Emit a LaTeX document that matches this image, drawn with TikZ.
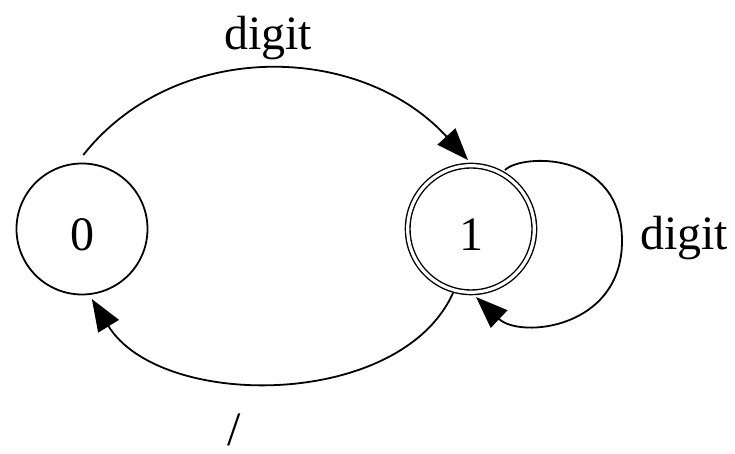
\documentclass[tikz,border=0pt]{standalone}
\usepackage{fontspec}
\setmainfont{Liberation Serif}
\usetikzlibrary{arrows.meta,calc}
\begin{document}
\begin{tikzpicture}[x=1pt,y=1pt,
  lbl/.style={font=\fontsize{48}{48}\selectfont, inner sep=0pt, anchor=base},
  state/.style={circle, draw, line width=1.8pt, minimum size=131pt, inner sep=0pt,
    font=\fontsize{48}{48}\selectfont, text height=44pt, text depth=0pt},
  accept/.style={state, line width=1.4pt, double, double distance=3.2pt, minimum size=126.6pt},
  edge/.style={line width=1.8pt, -{Triangle[length=32pt,width=24pt]}}]
\useasboundingbox (0,0) rectangle (735,454);
\node[state] (n0) at (82,225) {0};
\node[accept] (n1) at (471,225) {1};
\draw[edge] ($(n0)+(89:74)$) .. controls (175,415) and (360,412) .. ($(n1)+(92.5:69)$);
\draw[edge] ($(n1)+(60:68)$) .. controls (520,300) and (622,305) .. (622,213)
  .. controls (622,125) and (520,115) .. ($(n1)+(-85.8:68.2)$);
\draw[edge] ($(n1)+(254.3:66.5)$) .. controls (400,44) and (160,44) .. ($(n0)+(278:70.7)$);
\node[lbl] (l1) at (268,404) {digit};
\node[lbl] (l2) at (684,204) {digit};
\node[lbl, text depth=0pt] (l3) at (234,8) {/};
\end{tikzpicture}
\end{document}
